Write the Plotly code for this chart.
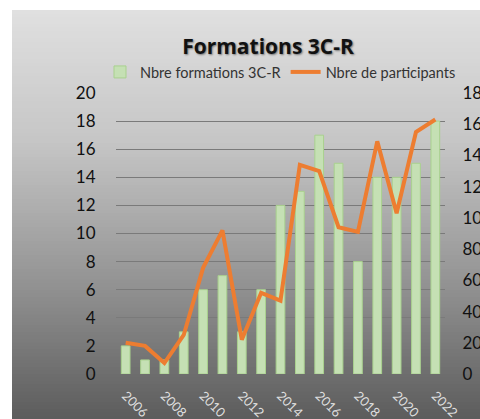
import plotly.graph_objects as go

years = list(range(2006, 2023))
formations = [2, 1, 1, 3, 6, 7, 3, 6, 12, 13, 17, 15, 8, 14, 14, 15, 18]
participants = [20, 18, 7, 25, 68, 92, 22, 52, 47, 134, 130, 94, 91, 149, 103, 155, 163]
year_ticks = years[::2]
left_ticks = list(range(0, 21, 2))
right_ticks = list(range(0, 181, 20))

W, H = 480, 419
# plot area in screen pixels: x 116..445, y 93..374
L = 116
T = 93
R = W - 445
B = H - 374
pw, ph = W - L - R, H - T - B

def sx(px):  # screen px -> paper x
    return (px - L) / pw

def sy(py):  # screen py -> paper y
    return (H - B - py) / ph

# gradient background via strips
stops = [(10, 224), (140, 198), (280, 148), (419, 92)]
def gray_at(py):
    for (y0, g0), (y1, g1) in zip(stops[:-1], stops[1:]):
        if y0 <= py <= y1:
            return g0 + (g1 - g0) * (py - y0) / (y1 - y0)
    return stops[-1][1]

shapes = []
n = 120
y_top, y_bot = 10, 430
step = (y_bot - y_top) / n
for i in range(n):
    a = y_top + i * step
    b = a + step + 0.6
    g = int(round(gray_at(min(a + step / 2, 419))))
    shapes.append(dict(type="rect", xref="paper", yref="paper",
                       x0=sx(12), x1=sx(500),
                       y0=sy(b), y1=sy(a),
                       fillcolor=f"rgb({g},{g},{g})", line=dict(width=0),
                       layer="below"))

fig = go.Figure()
fig.add_trace(go.Bar(x=years, y=formations, name="Nbre formations 3C-R",
                     marker=dict(color="#c5e0b4", line=dict(color="#a9d18e", width=1)),
                     width=0.45, yaxis="y"))
fig.add_trace(go.Scatter(x=years, y=participants, name="Nbre de participants",
                         mode="lines", line=dict(color="#ed7d31", width=4),
                         yaxis="y2"))

font_family = "Lato, 'Open Sans', sans-serif"
fig.update_layout(
    width=W, height=H,
    margin=dict(l=L, r=R, t=T, b=B, autoexpand=False),
    paper_bgcolor="white",
    plot_bgcolor="rgba(0,0,0,0)",
    shapes=shapes,
    showlegend=True,
    title=dict(text="<b>Formations 3C-R</b>", x=268 / W, xanchor="center",
               y=1 - 47 / H, yanchor="middle",
               font=dict(family="'Open Sans', sans-serif", size=21, color="#111111",
                         shadow="1px 1px 2px rgba(0,0,0,0.45)")),
    legend=dict(orientation="h", x=sx(100), xanchor="left",
                y=sy(72), yanchor="middle",
                font=dict(family=font_family, size=14.5, color="#333333"),
                bgcolor="rgba(0,0,0,0)", itemwidth=30, tracegroupgap=0),
    xaxis=dict(range=[2005.5, 2022.5], tickvals=year_ticks,
               ticktext=[str(y) for y in year_ticks], tickangle=45,
               tickfont=dict(family=font_family, size=13, color="#dedede"),
               showgrid=False, zeroline=False, showline=False,
               ticks="outside", ticklen=8, tickcolor="rgba(0,0,0,0)",
               ticklabeloverflow="allow"),
    yaxis=dict(range=[0, 20], tickvals=left_ticks,
               tickfont=dict(family=font_family, size=17, color="#111111"),
               showgrid=True, gridcolor="#7a7a7a", gridwidth=1,
               zeroline=False, showline=False,
               ticks="outside", ticklen=16, tickcolor="rgba(0,0,0,0)",
               ticklabeloverflow="allow"),
    yaxis2=dict(range=[0, 180], tickvals=right_ticks, overlaying="y", side="right",
                tickfont=dict(family=font_family, size=17, color="#111111"),
                showgrid=False, zeroline=False, showline=False,
                ticks="outside", ticklen=13, tickcolor="rgba(0,0,0,0)",
                ticklabeloverflow="allow"),
    bargap=0.55,
)

fig.write_html("out.html",
               config={"displayModeBar": False},
               post_script="document.body.style.margin='0';"
                           "document.body.style.overflow='hidden';"
                           "document.documentElement.style.overflow='hidden';")
